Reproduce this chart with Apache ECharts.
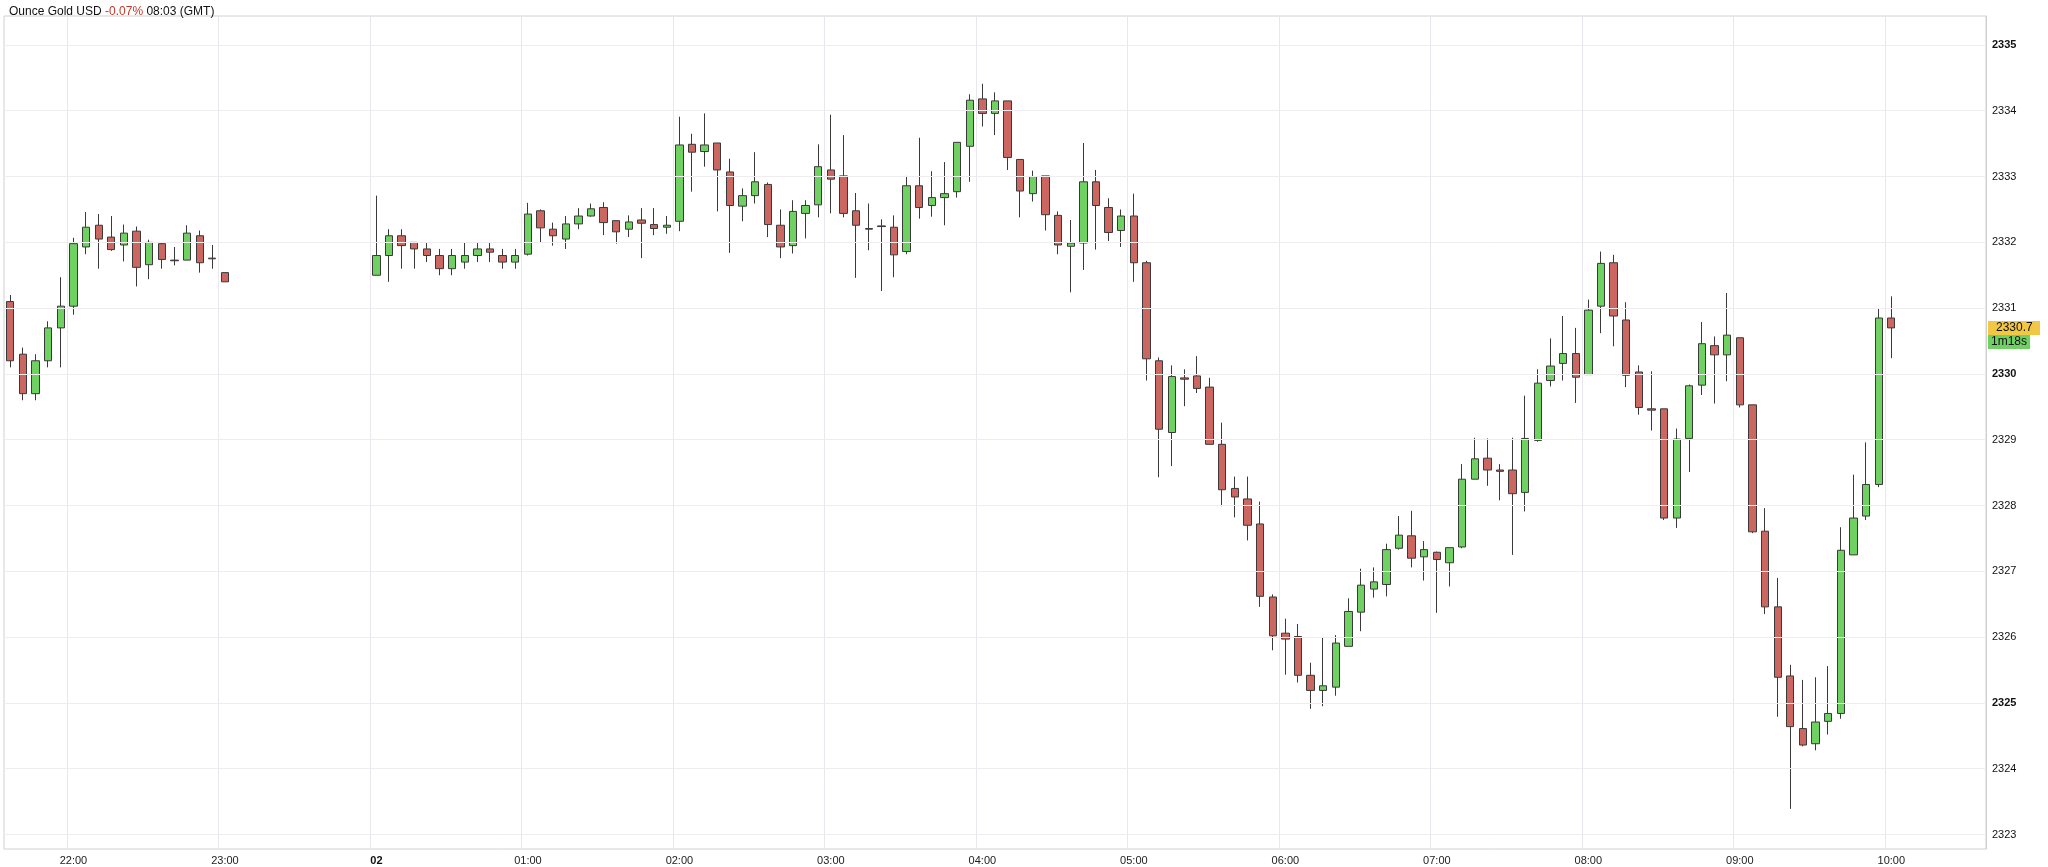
<!DOCTYPE html>
<html><head><meta charset="utf-8">
<script src="https://cdn.jsdelivr.net/npm/echarts@6/dist/echarts.min.js"></script>
<style>html,body{margin:0;padding:0;background:#fff}#c{width:2048px;height:867px}</style>
</head><body><div id="c"></div>
<script>
// 5-minute candles from 21:35 to 10:35 (index 0 = 21:35); null = no trading
const startTime = '21:35';
const slotCount = 157;
const opens = [2331.1,2330.3,2329.7,2330.2,2330.7,2331.03,2331.93,2332.26,2332.08,2331.96,2332.17,2331.66,2331.98,2331.73,2331.73,2332.1,2331.76,2331.54,
null,null,null,null,null,null,null,null,null,null,null,
2331.5,2331.8,2332.1,2332.0,2331.9,2331.8,2331.6,2331.7,2331.8,2331.9,2331.8,2331.7,2331.82,2332.48,2332.2,2332.05,2332.28,
2332.40,2332.53,2332.33,2332.20,2332.34,2332.27,2332.23,2332.32,2333.49,2333.38,2333.51,2333.07,2332.55,2332.71,2332.88,2332.26,2331.95,2332.44,2332.57,2333.10,2333.01,2332.48,2332.21,2332.25,2332.23,
2331.86,2332.86,2332.56,2332.68,2332.77,2333.46,2334.18,2333.96,2334.15,2333.26,2332.74,2333.01,2332.41,2331.94,2331.99,2332.92,2332.53,2332.18,2332.40,2331.69,
2330.20,2329.11,2329.94,2329.97,2329.80,2328.93,2328.26,2328.10,2327.72,2326.61,
2326.06,2326.01,2325.42,2325.19,2325.24,2325.86,2326.38,2326.73,2326.80,2327.35,2327.54,2327.22,2327.29,2327.13,
2327.37,2328.40,2328.72,2328.54,2328.54,2328.20,2328.99,2329.90,2330.16,2330.31,2329.99,2331.03,2331.69,2330.82,2330.03,2329.47,2329.47,2327.81,2329.02,
2329.83,2330.43,2330.29,2330.55,2329.53,2327.61,2326.46,2325.41,2324.61,2324.38,2324.72,2324.84,2327.25,2327.84,2328.32,2330.85];
const closes = [2330.2,2329.7,2330.2,2330.7,2331.03,2331.98,2332.23,2332.05,2331.89,2332.14,2331.62,2332.0,2331.74,2331.72,2332.14,2331.69,2331.75,2331.4,
null,null,null,null,null,null,null,null,null,null,null,
2331.8,2332.1,2331.95,2331.9,2331.8,2331.6,2331.8,2331.8,2331.9,2331.85,2331.7,2331.8,2332.43,2332.22,2332.1,2332.28,2332.4,
2332.51,2332.30,2332.16,2332.31,2332.29,2332.21,2332.26,2333.48,2333.37,2333.48,2333.10,2332.56,2332.71,2332.92,2332.27,2331.93,2332.47,2332.56,2333.15,2332.96,2332.44,2332.26,2332.20,2332.24,2331.81,
2332.86,2332.53,2332.68,2332.74,2333.52,2334.16,2333.96,2334.15,2333.29,2332.78,2333.0,2332.42,2331.96,2331.99,2332.92,2332.56,2332.15,2332.40,2331.69,2330.23,
2329.16,2329.96,2329.92,2329.78,2328.93,2328.24,2328.13,2327.70,2326.62,2326.02,
2325.97,2325.42,2325.19,2325.26,2325.91,2326.39,2326.79,2326.84,2327.33,2327.55,2327.20,2327.33,2327.18,2327.36,
2328.40,2328.71,2328.54,2328.52,2328.18,2329.02,2329.86,2330.12,2330.31,2329.95,2330.97,2331.68,2330.88,2329.98,2329.49,2329.45,2327.81,2329.01,2329.82,
2330.46,2330.29,2330.59,2329.53,2327.60,2326.46,2325.39,2324.64,2324.36,2324.71,2324.84,2327.32,2327.81,2328.32,2330.85,2330.70];
const lows = [2330.1,2329.6,2329.6,2330.1,2330.1,2330.9,2331.82,2331.6,2331.87,2331.71,2331.33,2331.44,2331.6,2331.65,2331.73,2331.54,2331.6,2331.4,
null,null,null,null,null,null,null,null,null,null,null,
2331.5,2331.4,2331.6,2331.6,2331.7,2331.5,2331.5,2331.6,2331.7,2331.7,2331.6,2331.6,2331.8,2332.0,2331.95,2331.9,2332.2,
2332.39,2332.11,2331.98,2332.08,2331.76,2332.11,2332.13,2332.17,2332.77,2333.15,2332.47,2331.84,2332.32,2332.59,2332.08,2331.76,2331.83,2332.06,2332.38,2332.44,2332.38,2331.46,2331.88,2331.26,2331.47,
2331.82,2332.36,2332.39,2332.26,2332.68,2332.92,2333.76,2333.63,2333.10,2332.38,2332.62,2332.18,2331.82,2331.24,2331.58,2331.89,2332.02,2331.93,2331.40,2329.9,
2328.43,2328.60,2329.51,2329.71,2328.93,2327.99,2327.82,2327.47,2326.46,2325.8,
2325.43,2325.31,2324.91,2324.95,2325.11,2325.86,2326.09,2326.60,2326.62,2327.33,2327.06,2326.86,2326.37,2326.77,
2327.35,2328.40,2328.30,2328.08,2327.25,2327.91,2328.97,2329.81,2329.90,2329.56,2329.99,2330.62,2330.42,2329.80,2329.38,2329.14,2327.78,2327.66,2328.51,
2329.68,2329.55,2329.89,2329.49,2327.58,2326.35,2324.79,2323.39,2324.34,2324.28,2324.52,2324.76,2327.25,2327.78,2328.28,2330.24];
const highs = [2331.2,2330.4,2330.3,2330.8,2331.47,2332.07,2332.46,2332.43,2332.4,2332.27,2332.24,2332.04,2332.0,2331.93,2332.26,2332.18,2331.96,2331.54,
null,null,null,null,null,null,null,null,null,null,null,
2332.71,2332.2,2332.2,2332.0,2332.0,2331.9,2331.9,2332.0,2332.0,2332.0,2331.9,2331.9,2332.6,2332.5,2332.3,2332.4,2332.52,
2332.59,2332.61,2332.33,2332.41,2332.52,2332.52,2332.40,2333.91,2333.65,2333.96,2333.51,2333.27,2332.82,2333.37,2332.91,2332.50,2332.64,2332.64,2333.49,2333.94,2333.63,2332.75,2332.59,2332.35,2332.41,
2333.01,2333.59,2333.08,2333.22,2333.52,2334.25,2334.41,2334.28,2334.15,2333.26,2333.09,2333.01,2332.47,2332.34,2333.51,2333.10,2332.67,2332.50,2332.74,2331.72,
2330.25,2330.13,2330.07,2330.27,2329.94,2329.26,2328.44,2328.44,2328.06,2326.65,
2326.28,2326.20,2325.61,2326.0,2326.03,2326.59,2327.04,2327.06,2327.42,2327.84,2327.92,2327.46,2327.30,2327.36,
2328.63,2329.03,2329.02,2328.63,2329.03,2329.67,2330.07,2330.54,2330.88,2330.70,2331.13,2331.86,2331.81,2331.09,2330.13,2330.04,2329.47,2329.17,2329.84,
2330.79,2330.57,2331.23,2330.55,2329.53,2327.96,2326.90,2325.58,2325.35,2325.39,2325.56,2327.67,2328.47,2328.96,2331.0,2331.18];
const yTicks = [2323,2324,2325,2326,2327,2328,2329,2330,2331,2332,2333,2334,2335];
const lastPrice = 2330.7;
const countdown = '1m18s';

const times = [];
{ let [h,m] = startTime.split(':').map(Number);
  for (let i=0;i<slotCount;i++){ times.push(String(h).padStart(2,'0')+':'+String(m).padStart(2,'0')); m+=5; if(m>=60){m-=60;h=(h+1)%24;} } }
const ohlc = times.map((t,i)=> opens[i]==null ? '-' : [opens[i],closes[i],lows[i],highs[i]]);
const isHour = (i,v)=> v.endsWith(':00');

const chart = echarts.init(document.getElementById('c'));
const FONT = '"Liberation Sans", Arial, sans-serif';
chart.setOption({
  animation:false,
  textStyle:{fontFamily:FONT},
  title:{text:'{a|Ounce Gold USD }{r|-0.07%}{a| 08:03 (GMT)}',left:4,top:1,
    textStyle:{fontWeight:'normal',rich:{a:{fontSize:12,color:'#111',fontWeight:'normal',fontFamily:FONT},r:{fontSize:12,color:'#c0392b',fontWeight:'normal',fontFamily:FONT}}}},
  grid:{left:4,right:62,top:16,bottom:18,show:true,borderColor:'#d0d0d0',borderWidth:1},
  xAxis:{type:'category',data:times,boundaryGap:true,
    axisLine:{show:false},axisTick:{show:false},
    axisLabel:{interval:isHour,fontSize:11,color:'#222',margin:6,
      formatter:v=> v==='00:00' ? '{b|02}' : v, rich:{b:{fontWeight:'bold',fontSize:11,color:'#111'}}},
    splitLine:{show:true,interval:isHour,lineStyle:{color:'#ebe6ee',width:1}}},
  yAxis:{type:'value',position:'right',min:2322.78,max:2335.44,
    axisLine:{show:true,lineStyle:{color:'#d0d0d0'}},axisTick:{show:false},axisLabel:{show:false},splitLine:{show:false}},
  series:[{type:'candlestick',data:ohlc,barWidth:'62%',
    itemStyle:{color:'#6fd162',color0:'#cc6661',borderColor:'#3a3a3a',borderColor0:'#3a3a3a',borderWidth:1},
    markLine:{silent:true,symbol:'none',animation:false,
      data:[
        ...yTicks.map(v=>({yAxis:v,lineStyle:{color:'#efecef',width:1,type:'solid'},
          label:{show:true,position:'end',distance:6,fontSize:11,color:'#111',
            fontWeight:(v%5===0)?'bold':'normal',formatter:String(v)}})),
        {yAxis:lastPrice,lineStyle:{color:'rgba(0,0,0,0)',width:0},
          label:{show:true,position:'end',distance:2,offset:[0,7],
            formatter:'{y|'+lastPrice.toFixed(1)+'}\n{g|'+countdown+'}',
            rich:{y:{backgroundColor:'#f2c744',color:'#111',fontSize:12,padding:[1,4,1,8],width:40,align:'left'},
                  g:{backgroundColor:'#6fd162',color:'#111',fontSize:12,padding:[1,3,1,3]}}}}
      ]}
  }]
});
</script></body></html>
